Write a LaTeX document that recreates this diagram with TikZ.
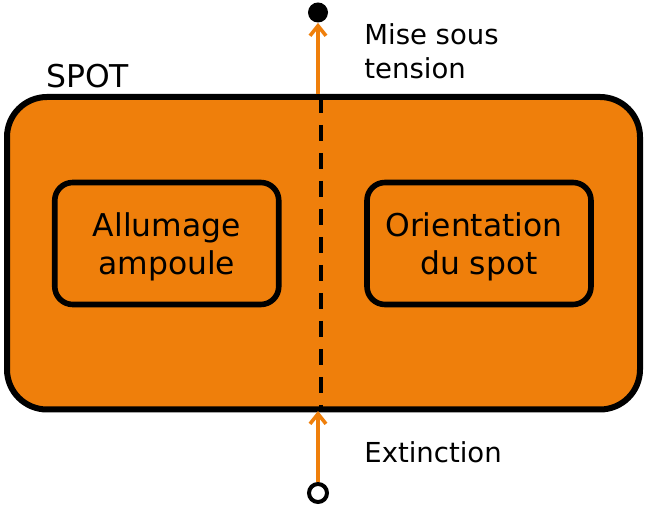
\documentclass[tikz,border=0pt]{standalone}
\usepackage{fontspec}
\setmainfont{DejaVu Sans}
\usetikzlibrary{arrows.meta}
\definecolor{spotorange}{RGB}{239,127,11}
\tikzset{
  bloc/.style={rectangle,draw,line width=2.8pt,rounded corners=9pt,minimum width=112pt,minimum height=61pt,inner sep=0pt,align=center,text height=34.1pt,font=\fontsize{15.7}{18.7}\selectfont},
  flux/.style={draw=spotorange,line width=1.8pt,-{Straight Barb[length=5pt,width=8pt]}},
  etiq/.style={anchor=north west,inner sep=0pt,align=left,font=\fontsize{13.75}{17}\selectfont}
}
\begin{document}
\begin{tikzpicture}[x=0.5pt,y=-0.5pt]
\useasboundingbox (0,0) rectangle (648,506);
\draw[fill=spotorange,line width=3pt,rounded corners=20pt] (7,97) rectangle (640,409.5);
\node[anchor=base west,inner sep=0pt,font=\fontsize{15.7}{18}\selectfont] (spot) at (46,88) {SPOT};
\node[bloc] (allumage) at (166.75,243.5) {Allumage\\ampoule};
\node[bloc] (orientation) at (479,243.5) {Orientation\kern.32em\\du spot};
% separation
\coordinate (sephaut) at (321,97);
\coordinate (sepbas) at (321,409.5);
\draw[line width=2pt,dash pattern=on 8pt off 6pt] (sephaut) -- (sepbas);
% entree / sortie
\node[circle,fill,inner sep=0pt,minimum size=10pt] (on) at (318,12.5) {};
\node[circle,draw,fill=white,line width=2pt,inner sep=0pt,minimum size=9pt] (off) at (318,493) {};
\coordinate (haut) at (318,94.5);
\coordinate (bas) at (318,411);
\draw[flux] (haut) -- (on);
\draw[flux] (off) -- (bas);
\node[etiq] (mise) at (364,23) {Mise sous\\tension};
\node[etiq] (extinction) at (364,441) {Extinction};
\end{tikzpicture}
\end{document}
